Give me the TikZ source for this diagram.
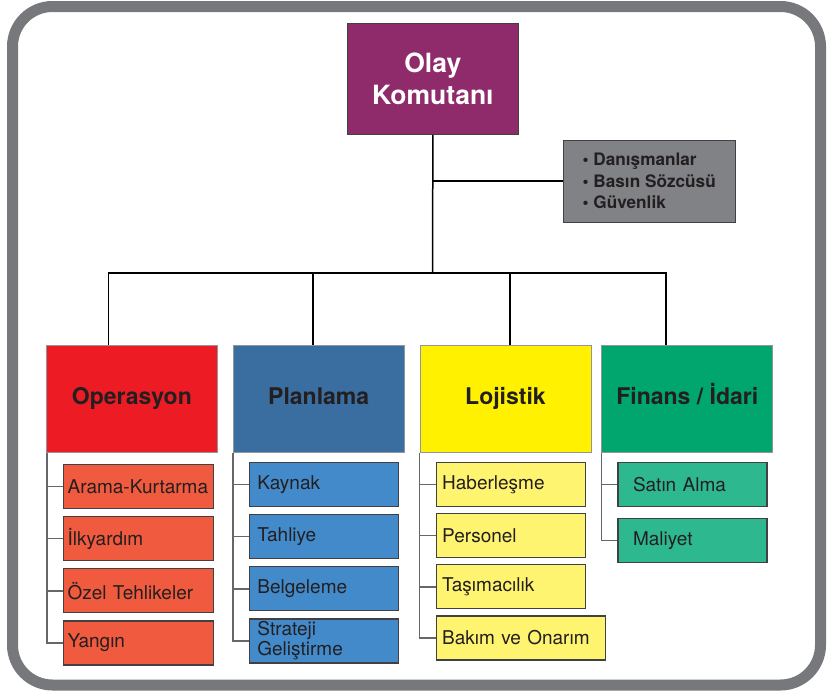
\documentclass[tikz,border=0pt]{standalone}
\usepackage{fontspec}
\setmainfont{TeX Gyre Heros}
\usetikzlibrary{positioning}

\definecolor{framegray}{HTML}{77787B}
\definecolor{ink}{HTML}{231F20}
\definecolor{inkline}{HTML}{414042}
\definecolor{sectionline}{HTML}{939598}
\definecolor{chiefpurple}{HTML}{8F2A6B}
\definecolor{staffgray}{HTML}{808285}
\definecolor{opsred}{HTML}{ED1C24}
\definecolor{planblue}{HTML}{3B6EA0}
\definecolor{lojyellow}{HTML}{FFF100}
\definecolor{fingreen}{HTML}{00A66E}
\definecolor{opslight}{HTML}{F05A3F}
\definecolor{planlight}{HTML}{438ACA}
\definecolor{lojlight}{HTML}{FFF46F}
\definecolor{finlight}{HTML}{2DB88F}

\begin{document}
\begin{tikzpicture}[
		x=1pt, y=-1pt,
		chief/.style={draw=inkline, line width=0.8pt, fill=chiefpurple, text=white, minimum width=171pt, minimum height=111pt, align=center, font=\bfseries\fontsize{26.5}{32}\selectfont},
		staff/.style={draw=inkline, line width=0.8pt, fill=staffgray, text=ink, minimum width=172pt, minimum height=82pt, align=left, font=\bfseries\fontsize{17.2}{21.5}\selectfont},
		section/.style={draw=sectionline, line width=0.8pt, text=ink, minimum width=171pt, minimum height=107pt, text height=17pt, text depth=5pt, font=\bfseries\fontsize{23}{27}\selectfont},
		unit/.style={draw=inkline, line width=1.2pt, text=ink, minimum height=44pt, inner xsep=7pt, inner ysep=2pt, text width=135pt, align=left, font=\fontsize{19}{20}\selectfont},
		tree/.style={draw=black, line width=1.5pt},
		spine/.style={draw=inkline!80, line width=1.4pt}
	]
	\useasboundingbox (0,0) rectangle (835,694);

	% Cerceve
	\draw[line width=11pt, draw=framegray, rounded corners=40pt] (12.5,6.5) rectangle (820.5,685);

	% Komuta ve danisma
	\node[chief, anchor=north west] (olay) at (347,23) {Olay\\Komutanı};
	\node[staff, below right=5pt and 44pt of olay.south east] (staff) {\textbullet~Danışmanlar\\\textbullet~Basın Sözcüsü\\\textbullet~Güvenlik};

	% Bolumler
	\node[section, fill=opsred, anchor=north west] (ops) at (46,345) {Operasyon};
	\node[section, fill=planblue] (plan) [right=15pt of ops] {Planlama};
	\node[section, fill=lojyellow] (loj) [right=15pt of plan] {Lojistik};
	\node[section, fill=fingreen] (fin) [right=10pt of loj] {Finans / İdari};

	% Baglantilar
	\coordinate (bar) at (432.5,273);
	\draw[tree] (olay.south) -- (bar);
	\draw[tree] (olay.south |- staff.west) -- (staff.west);
	\foreach \s/\dx in {ops/-23.5, plan/-5.5, loj/4.5, fin/-21.5} {
			\draw[tree] (bar) -| ([xshift=\dx pt]\s.north);
		}

	% Operasyon birimleri
	\node[unit, fill=opslight, inner xsep=4pt, text width=142pt] (ops1) [below right=11pt and 17pt of ops.south west] {Arama-Kurtarma};
	\node[unit, fill=opslight, inner xsep=4pt, text width=142pt] (ops2) [below=7pt of ops1] {İlkyardım};
	\node[unit, fill=opslight, inner xsep=4pt, text width=142pt] (ops3) [below=7pt of ops2] {Özel Tehlikeler};
	\node[unit, fill=opslight, inner xsep=4pt, text width=142pt] (ops4) [below=7pt of ops3] {Yangın};
	\foreach \i in {1,...,4} {
			\draw[spine] ([xshift=1pt]ops.south west) |- (ops\i.west);
		}

	% Planlama birimleri
	\node[unit, fill=planlight, inner xsep=8pt, text width=133pt] (plan1) [below right=9pt and 16pt of plan.south west] {Kaynak};
	\node[unit, fill=planlight, inner xsep=8pt, text width=133pt] (plan2) [below=7pt of plan1] {Tahliye};
	\node[unit, fill=planlight, inner xsep=8pt, text width=133pt] (plan3) [below=7pt of plan2] {Belgeleme};
	\node[unit, fill=planlight, inner xsep=8pt, text width=133pt] (plan4) [below=7pt of plan3] {Strateji\\Geliştirme};
	\foreach \i in {1,...,4} {
			\draw[spine] (plan.south west) |- (plan\i.west);
		}

	% Lojistik birimleri
	\node[unit, fill=lojlight, inner xsep=6pt, text width=137pt] (loj1) [below right=9pt and 16pt of loj.south west] {Haberleşme};
	\node[unit, fill=lojlight, inner xsep=6pt, text width=137pt] (loj2) [below=6pt of loj1] {Personel};
	\node[unit, fill=lojlight, inner xsep=6pt, text width=137pt] (loj3) [below=6pt of loj2] {Taşımacılık};
	\node[unit, fill=lojlight, inner xsep=6pt, text width=157pt] (loj4) [below right=6pt and 0pt of loj3.south west] {Bakım ve Onarım};
	\foreach \i in {1,...,4} {
			\draw[spine] (loj.south west) |- (loj\i.west);
		}

	% Finans birimleri
	\node[unit, fill=finlight, inner xsep=15pt, text width=119pt] (fin1) [below right=9pt and 16pt of fin.south west] {Satın Alma};
	\node[unit, fill=finlight, inner xsep=15pt, text width=119pt] (fin2) [below=11pt of fin1] {Maliyet};
	\foreach \i in {1,2} {
			\draw[spine] (fin.south west) |- (fin\i.west);
		}

\end{tikzpicture}
\end{document}
